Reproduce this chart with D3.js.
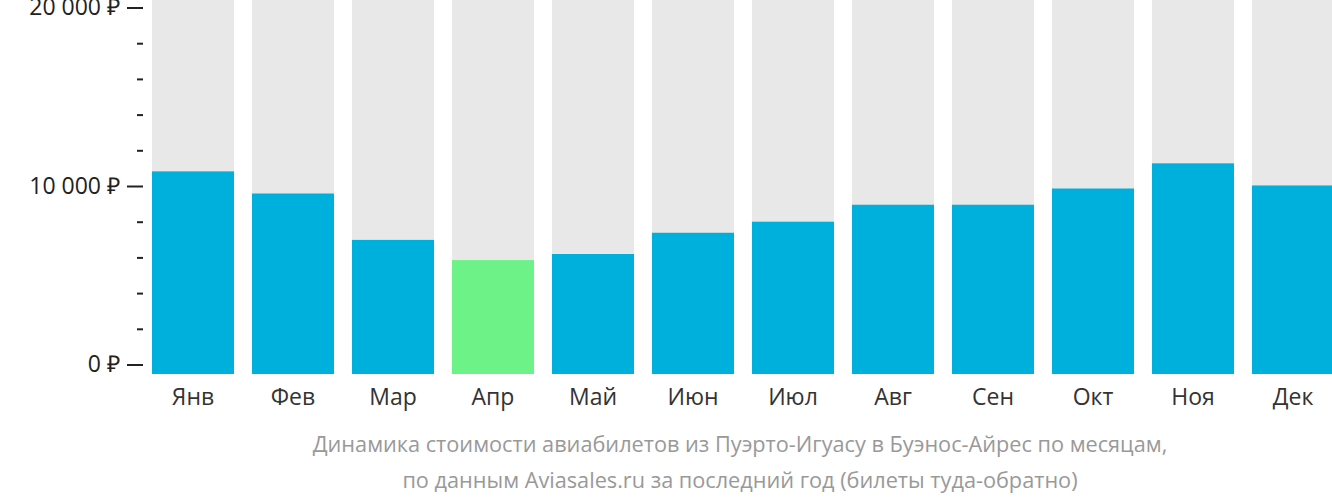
<!DOCTYPE html><html><head><meta charset="utf-8"><script src="https://cdn.jsdelivr.net/npm/d3@7"></script>
<style>body{margin:0;background:#fff}text{font-family:"Open Sans",sans-serif}</style></head><body><svg id="c" width="1332" height="502"></svg><script>
const months=["Янв","Фев","Мар","Апр","Май","Июн","Июл","Авг","Сен","Окт","Ноя","Дек"];
const prices=[10820,9580,6980,5850,6190,7380,8000,8950,8950,9860,11270,10030];
const highlight="Апр";
const majorTicks=[0,10000,20000];
const minorTicks=[2000,4000,6000,8000,12000,14000,16000,18000];
const caption=["Динамика стоимости авиабилетов из Пуэрто-Игуасу в Буэнос-Айрес по месяцам,","по данным Aviasales.ru за последний год (билеты туда-обратно)"];
const svg=d3.select("#c");
const y=d3.scaleLinear().domain([0,20000]).range([364.5,7.5]);
const x=d3.scaleBand().domain(months).range([143,1343]).paddingInner(0.18).paddingOuter(0.09);
const bottom=374;
svg.selectAll(".bg").data(months).enter().append("rect").attr("x",d=>x(d)).attr("width",x.bandwidth()).attr("y",0).attr("height",bottom).attr("fill","#e8e8e8");
svg.selectAll(".b").data(months).enter().append("rect").attr("x",d=>x(d)).attr("width",x.bandwidth()).attr("y",(d,i)=>y(prices[i])).attr("height",(d,i)=>bottom-y(prices[i])).attr("fill",d=>d===highlight?"#6cf286":"#00b0dc");
svg.selectAll(".ml").data(months).enter().append("text").attr("x",d=>x(d)+x.bandwidth()/2).attr("y",405).attr("text-anchor","middle").attr("font-size",23).attr("fill","#333").text(d=>d);
const fmt=v=>d3.format(",")(v).replace(/,/g," ")+" ₽";
const ax=svg.append("g").attr("transform","translate(143,0)").call(d3.axisLeft(y).tickValues(majorTicks).tickSize(16).tickPadding(7).tickFormat(fmt));
ax.select(".domain").remove();
ax.selectAll("line").attr("stroke","#222").attr("stroke-width",2);
ax.selectAll("text").attr("font-size",23).attr("fill","#222").attr("font-family","Open Sans");
const mx=svg.append("g").attr("transform","translate(143,0)").call(d3.axisLeft(y).tickValues(minorTicks).tickSize(6).tickFormat(""));
mx.select(".domain").remove();mx.selectAll("line").attr("stroke","#222").attr("stroke-width",2);
svg.selectAll(".cap").data(caption).enter().append("text").attr("x",740).attr("y",(d,i)=>452+i*36).attr("text-anchor","middle").attr("font-size",21.7).attr("fill","#999").text(d=>d);
</script></body></html>
